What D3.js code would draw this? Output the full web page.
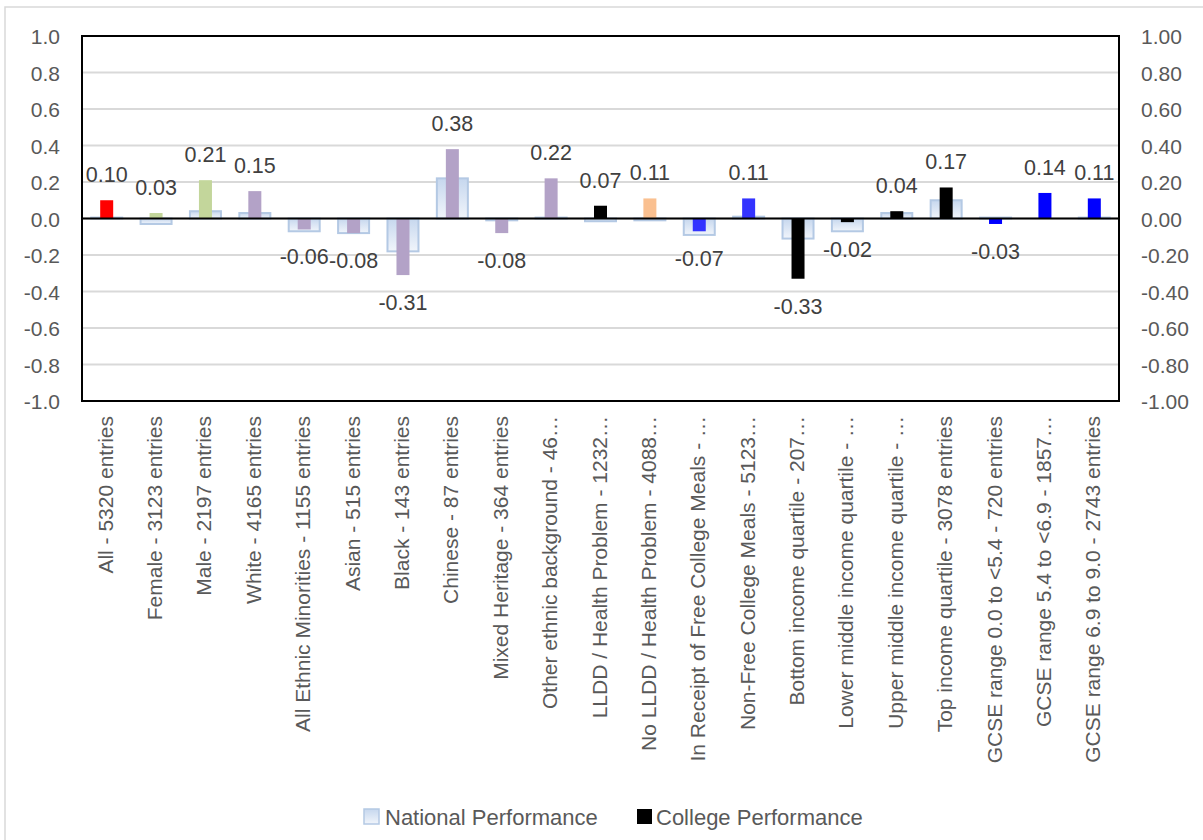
<!DOCTYPE html>
<html>
<head>
<meta charset="utf-8">
<script src="https://cdn.jsdelivr.net/npm/d3@7"></script>
<style>
  html, body { margin: 0; padding: 0; background: #ffffff; }
  svg { display: block; font-family: "Liberation Sans", Arial, sans-serif; }
</style>
</head>
<body>
<svg id="chart" width="1203" height="840"></svg>
<script>
// Value-added scores by learner group
const categories = [
  "All - 5320 entries",
  "Female - 3123 entries",
  "Male - 2197 entries",
  "White - 4165 entries",
  "All Ethnic Minorities - 1155 entries",
  "Asian - 515 entries",
  "Black - 143 entries",
  "Chinese - 87 entries",
  "Mixed Heritage - 364 entries",
  "Other ethnic background - 46…",
  "LLDD / Health Problem - 1232…",
  "No LLDD / Health Problem - 4088…",
  "In Receipt of Free College Meals - …",
  "Non-Free College Meals - 5123…",
  "Bottom income quartile - 207…",
  "Lower middle income quartile - …",
  "Upper middle income quartile - …",
  "Top income quartile - 3078 entries",
  "GCSE range 0.0 to <5.4 - 720 entries",
  "GCSE range 5.4 to <6.9 - 1857…",
  "GCSE range 6.9 to 9.0 - 2743 entries"
];

const nationalPerformance = [
  0.005, -0.03, 0.04, 0.03, -0.07, -0.08, -0.18, 0.22, -0.01, 0.005,
  -0.015, -0.01, -0.09, 0.01, -0.11, -0.07, 0.03, 0.10, 0.005, 0.0, 0.005
];

const collegePerformance = [
  0.10, 0.03, 0.21, 0.15, -0.06, -0.08, -0.31, 0.38, -0.08, 0.22,
  0.07, 0.11, -0.07, 0.11, -0.33, -0.02, 0.04, 0.17, -0.03, 0.14, 0.11
];

// Which family each group belongs to (sets the college bar colour)
const groupFamily = [
  "all", "gender", "gender", "ethnicity", "ethnicity", "ethnicity", "ethnicity",
  "ethnicity", "ethnicity", "ethnicity", "lldd", "noLldd", "meals", "meals",
  "income", "income", "income", "income", "gcse", "gcse", "gcse"
];

const leftTicks = [1.0, 0.8, 0.6, 0.4, 0.2, 0.0, -0.2, -0.4, -0.6, -0.8, -1.0];
const seriesNames = ["National Performance", "College Performance"];

const familyColour = {
  all: "#ff0000",
  gender: "#c3d69b",
  ethnicity: "#b3a2c7",
  lldd: "#000000",
  noLldd: "#fac090",
  meals: "#3333ff",
  income: "#000000",
  gcse: "#0000ff"
};

// Number formats using a plain hyphen for negatives
const fmt1 = v => d3.format(".1f")(v).replace("\u2212", "-");
const fmt2 = v => d3.format(".2f")(v).replace("\u2212", "-");

const svg = d3.select("#chart");
const plot = { left: 82, right: 1119, top: 36, bottom: 401 };

// Outer chart frame
svg.append("rect")
  .attr("x", 5).attr("y", 7)
  .attr("width", 1260).attr("height", 900)
  .attr("fill", "#ffffff")
  .attr("stroke", "#d9d9d9").attr("stroke-width", 1.5);

const defs = svg.append("defs");
const grad = defs.append("linearGradient")
  .attr("id", "natFill").attr("x1", 0).attr("y1", 0).attr("x2", 0).attr("y2", 1);
grad.append("stop").attr("offset", "0%").attr("stop-color", "#c6d7ee");
grad.append("stop").attr("offset", "100%").attr("stop-color", "#f1f5fb");

const x = d3.scaleBand()
  .domain(d3.range(categories.length))
  .range([plot.left, plot.right]);

const y = d3.scaleLinear().domain([-1, 1]).range([plot.bottom, plot.top]);
const y2 = d3.scaleLinear().domain([-1, 1]).range([plot.bottom, plot.top]);

// Gridlines
svg.append("g")
  .selectAll("line")
  .data(leftTicks)
  .join("line")
  .attr("x1", plot.left).attr("x2", plot.right)
  .attr("y1", d => y(d)).attr("y2", d => y(d))
  .attr("stroke", "#d9d9d9").attr("stroke-width", 2);

// Left axis labels
const leftAxis = d3.axisLeft(y).tickValues(leftTicks).tickFormat(fmt1).tickSize(0).tickPadding(0);
svg.append("g")
  .attr("transform", `translate(${plot.left - 22},0)`)
  .call(leftAxis)
  .call(g => g.select(".domain").remove())
  .call(g => g.selectAll("text")
    .attr("fill", "#595959")
    .attr("font-size", "21px")
    .attr("font-family", "Liberation Sans, Arial, sans-serif")
    .attr("dy", "0.36em"));

// Right axis labels
const rightAxis = d3.axisRight(y2).tickValues(leftTicks).tickFormat(fmt2).tickSize(0).tickPadding(0);
svg.append("g")
  .attr("transform", `translate(${plot.right + 22},0)`)
  .call(rightAxis)
  .call(g => g.select(".domain").remove())
  .call(g => g.selectAll("text")
    .attr("fill", "#595959")
    .attr("font-size", "21px")
    .attr("font-family", "Liberation Sans, Arial, sans-serif")
    .attr("dy", "0.36em"));

// National bars (wide, behind)
const natWidth = 31;
svg.append("g")
  .selectAll("rect")
  .data(nationalPerformance)
  .join("rect")
  .attr("x", (d, i) => x(i) + x.bandwidth() / 2 - natWidth / 2)
  .attr("width", natWidth)
  .attr("y", d => y(Math.max(0, d)))
  .attr("height", d => Math.abs(y(d) - y(0)))
  .attr("fill", "url(#natFill)")
  .attr("stroke", "#b4c9e4").attr("stroke-width", 2);

// College bars (narrow, in front)
const colWidth = 13;
svg.append("g")
  .selectAll("rect")
  .data(collegePerformance)
  .join("rect")
  .attr("x", (d, i) => x(i) + x.bandwidth() / 2 - colWidth / 2)
  .attr("width", colWidth)
  .attr("y", d => y2(Math.max(0, d)))
  .attr("height", d => Math.abs(y2(d) - y2(0)))
  .attr("fill", (d, i) => familyColour[groupFamily[i]]);

// Value labels on the college bars
svg.append("g")
  .selectAll("text")
  .data(collegePerformance)
  .join("text")
  .attr("x", (d, i) => x(i) + x.bandwidth() / 2)
  .attr("y", d => d >= 0 ? y2(d) - 18 : y2(d) + 35)
  .attr("text-anchor", "middle")
  .attr("font-size", "21.5px")
  .attr("fill", "#404040")
  .text(fmt2);

// Zero line
svg.append("line")
  .attr("x1", plot.left).attr("x2", plot.right)
  .attr("y1", y(0)).attr("y2", y(0))
  .attr("stroke", "#000000").attr("stroke-width", 2);

// Plot frame
svg.append("rect")
  .attr("x", plot.left).attr("y", plot.top)
  .attr("width", plot.right - plot.left).attr("height", plot.bottom - plot.top)
  .attr("fill", "none").attr("stroke", "#000000").attr("stroke-width", 2);

// Category labels, rotated
svg.append("g")
  .selectAll("text")
  .data(categories)
  .join("text")
  .attr("transform", (d, i) => `translate(${x(i) + x.bandwidth() / 2 + 6},416) rotate(-90)`)
  .attr("text-anchor", "end")
  .attr("font-size", "21px")
  .attr("fill", "#595959")
  .text(d => d);

// Legend
const legend = svg.append("g");
legend.append("rect")
  .attr("x", 364).attr("y", 809).attr("width", 15).attr("height", 15)
  .attr("fill", "url(#natFill)").attr("stroke", "#b4c9e4").attr("stroke-width", 1.5);
legend.append("text")
  .attr("x", 385).attr("y", 825)
  .attr("font-size", "22px").attr("fill", "#595959")
  .text(seriesNames[0]);
legend.append("rect")
  .attr("x", 637).attr("y", 809).attr("width", 15).attr("height", 15)
  .attr("fill", "#000000");
legend.append("text")
  .attr("x", 656).attr("y", 825)
  .attr("font-size", "22px").attr("fill", "#595959")
  .text(seriesNames[1]);
</script>
</body>
</html>
